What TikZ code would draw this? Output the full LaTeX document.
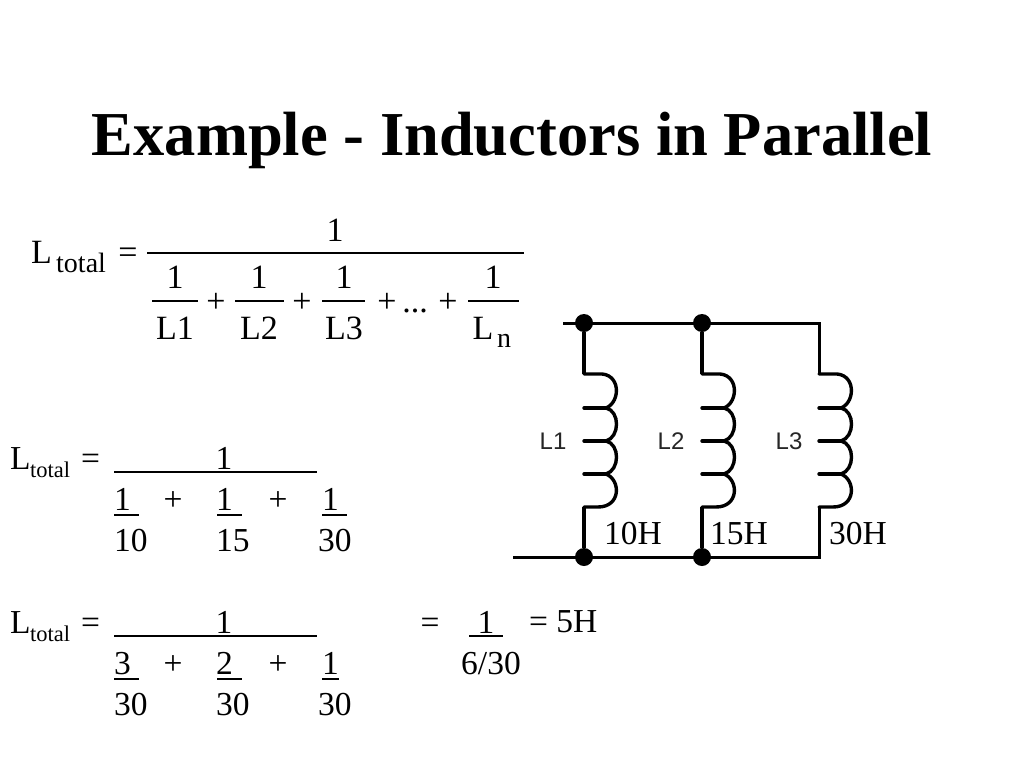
\documentclass[tikz,border=0pt]{standalone}
\usepackage{fontspec}
\setmainfont{Liberation Serif}
\newfontfamily\arialf{Liberation Sans}
\newcommand{\fs}[1]{\fontsize{#1}{#1}\selectfont}
\tikzset{
  x=1pt,y=-1pt,
  txt/.style={inner sep=0pt,outer sep=0pt,anchor=base,font=\fs{33.5}},
  txtw/.style={txt,anchor=base west},
  big/.style={inner sep=0pt,anchor=base,font=\fs{34}},
  bigsub/.style={inner sep=0pt,anchor=base west,font=\fs{28}},
  lowsub/.style={inner sep=0pt,anchor=base west,font=\fs{22.5}},
  lab/.style={inner sep=0pt,font=\arialf\fs{24},text=black!85},
  wire/.style={line width=3pt,black},
  thick wire/.style={line width=4pt,black},
  coil/.style={line width=3.4pt,black,line cap=round},
  junction/.style={circle,fill=black,inner sep=0pt,minimum size=18pt},
  rulebar/.style={line width=1.8pt,black},
  ubar/.style={line width=1.5pt,black}
}
\newcommand{\coilat}[2]{%
  \begin{scope}[xshift=#1pt]
  \coordinate (#2t) at (0,374);
  \coordinate (#2b) at (0,507);
  \draw[coil] (0,374) -- (14,374) .. controls (37,372) and (37,402) .. (22,408)
     .. controls (36,411) and (36,437) .. (22,441)
     .. controls (36,444) and (36,470) .. (22,474)
     .. controls (37,480) and (37,507) .. (14,507) -- (0,507);
  \draw[coil] (0,408) -- (22,408);
  \draw[coil] (0,441) -- (22,441);
  \draw[coil] (0,474) -- (22,474);
  \end{scope}
}
\begin{document}
\begin{tikzpicture}
\useasboundingbox (0,0) rectangle (1024,768);
\fill[white] (0,0) rectangle (1024,768);
% title
\node[inner sep=0pt,anchor=base,font=\bfseries\fs{62.5}] (title) at (512,155) {Example - Inductors in Parallel};
% general formula
\node[big,anchor=base west] (gL) at (31,263) {L};
\node[bigsub] (gsub) at (56,272) {total};
\node[big] (geq) at (128,263) {=};
\coordinate (gb1) at (147,253); \coordinate (gb2) at (524,253);
\draw[rulebar] (gb1) -- (gb2);
\node[big] (gn) at (335,241) {1};
\foreach \nm/\cx/\a/\b/\t in {a/175/152/198/L1,b/259/235/284/L2,c/344/322/365/L3}{
  \node[big] (n\nm) at (\cx,288) {1};
  \node[big] (d\nm) at (\cx,339) {\t};
  \draw[rulebar] (\a,301) -- (\b,301);
}
\node[big] (pa) at (216,312) {+};
\node[big] (pb) at (302,312) {+};
\node[big] (pc) at (387,312) {+};
\node[big] (dots) at (415,312) {...};
\node[big] (pd) at (448,312) {+};
\node[big] (ne) at (493,288) {1};
\draw[rulebar] (468,301) -- (519,301);
\node[big] (de) at (483,339) {L};
\node[bigsub] (dn) at (497,347) {n};
% circuit
\node[junction] (t1) at (584,323) {};
\node[junction] (t2) at (702,323) {};
\node[junction] (b1) at (584,557) {};
\node[junction] (b2) at (702,557) {};
\coordinate (tin) at (563,323);
\coordinate (bin) at (513,557);
\coordinate (tr) at (819,323);
\coordinate (br) at (819,557);
\coilat{584}{ca}
\coilat{702}{cb}
\coilat{819}{cc}
\draw[wire] (tin) -- (t1.center) -- (t2.center) -- (tr) -- (cct);
\draw[wire] (bin) -- (b1.center) -- (b2.center) -- (br) -- (ccb);
\draw[thick wire] (t1) -- (cat);
\draw[thick wire] (cab) -- (b1);
\draw[wire,line width=3.6pt] (t2) -- (cbt);
\draw[wire,line width=3.6pt] (cbb) -- (b2);
\node[lab] (l1) at (553,441) {L1};
\node[lab] (l2) at (671,441) {L2};
\node[lab] (l3) at (789,441) {L3};
\node[txtw] (v1) at (604,544) {10H};
\node[txtw] (v2) at (710,544) {15H};
\node[txtw] (v3) at (829,544) {30H};
% rows
\foreach \r/\y/\ta/\tb/\tc/\ba/\bb/\bc/\eb in {A/0/1/1/1/10/15/30/347,B/164/3/2/1/30/30/30/339}{
  \begin{scope}[yshift=-\y pt]
  \node[txtw] (L\r) at (10,469) {L};
  \node[lowsub] (S\r) at (30,477) {total};
  \node[txtw] (E\r) at (81,469) {=};
  \node[txt] (N\r) at (224,469) {1};
  \draw[rulebar] (114,472) -- (317,472);
  \node[txtw] (fa\r) at (114,510) {\ta};
  \node[txtw] (fb\r) at (216,510) {\tb};
  \node[txtw] (fc\r) at (322,510) {\tc};
  \draw[ubar] (114,515) -- (139,515);
  \draw[ubar] (217,515) -- (242,515);
  \draw[ubar] (322,515) -- (\eb,515);
  \node[txt] (pl\r) at (173,510) {+};
  \node[txt] (pm\r) at (278,510) {+};
  \node[txtw] (ga\r) at (114,551) {\ba};
  \node[txtw] (gb\r) at (216,551) {\bb};
  \node[txtw] (gc\r) at (318,551) {\bc};
  \end{scope}
}
\node[txt] (eq) at (430,633) {=};
\node[txt] (one) at (486,633) {1};
\draw[ubar] (469,636) -- (503,636);
\node[txt] (den) at (491,674) {6/30};
\node[txtw] (res) at (529,632) {= 5H};
\end{tikzpicture}
\end{document}
